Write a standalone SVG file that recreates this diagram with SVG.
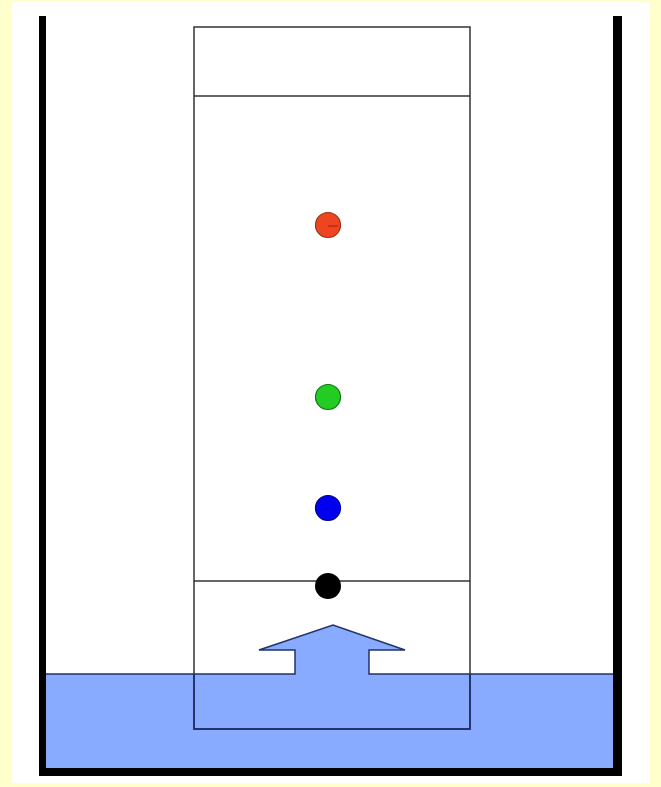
<svg xmlns="http://www.w3.org/2000/svg" width="661" height="787" viewBox="0 0 661 787">
  <style>
    .wall { fill: #000; }
    .paper { fill: none; stroke: #333; stroke-width: 1.5; }
    .spot { stroke-width: 1.2; }
  </style>
  <rect x="0" y="0" width="661" height="787" fill="#FFFFCC"/>
  <rect x="12" y="2" width="638" height="781" fill="#FFFFFF"/>
  <g id="water">
    <rect x="45" y="674" width="569" height="95" fill="#88AAFF"/>
    <polygon points="295,675 295,650 259,650 333,625 405,650 369,650 369,675" fill="#88AAFF"/>
    <polyline points="45,674 295,674 295,650 259,650 333,625 405,650 369,650 369,674 614,674" fill="none" stroke="#223366" stroke-width="1.5" stroke-linejoin="miter"/>
  </g>
  <g id="paper">
    <rect class="paper" x="194" y="27" width="276" height="702"/>
    <line class="paper" x1="194" y1="96" x2="470" y2="96"/>
    <line class="paper" x1="194" y1="581" x2="470" y2="581"/>
    <polyline points="194,674 194,729 470,729 470,674" fill="none" stroke="#1A2A6A" stroke-width="1.5"/>
  </g>
  <g id="beaker">
    <rect class="wall" x="39" y="16" width="7" height="760"/>
    <rect class="wall" x="613" y="16" width="9" height="760"/>
    <rect class="wall" x="39" y="768" width="583" height="8"/>
  </g>
  <g id="spot-red">
    <circle class="spot" cx="328" cy="225" r="12.5" fill="#EE4422" stroke="#993311"/>
    <line x1="328" y1="226" x2="338" y2="226" stroke="#992211" stroke-width="1"/>
  </g>
  <g id="spot-green">
    <circle class="spot" cx="328" cy="397" r="12.5" fill="#22CC22" stroke="#117711"/>
  </g>
  <g id="spot-blue">
    <circle class="spot" cx="328" cy="508" r="12.5" fill="#0000EE" stroke="#000088"/>
  </g>
  <g id="spot-black">
    <circle cx="328" cy="586" r="13" fill="#000"/>
  </g>
</svg>
